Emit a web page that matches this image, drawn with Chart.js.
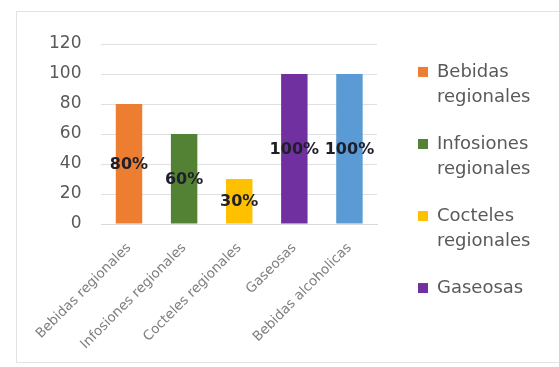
<!DOCTYPE html>
<html>
<head>
<meta charset="utf-8">
<script src="https://cdn.jsdelivr.net/npm/chart.js@4/dist/chart.umd.min.js"></script>
<style>
  html, body { margin: 0; padding: 0; background: #ffffff; }
  #wrap { position: relative; width: 559px; height: 367px; overflow: hidden; background: #fff; }
  #frame { position: absolute; left: 16px; top: 11px; width: 560px; height: 352px; border: 1px solid #e3e3e3; box-sizing: border-box; }
  #c { position: absolute; left: 0; top: 0; }
</style>
</head>
<body>
<div id="wrap">
  <div id="frame"></div>
  <canvas id="c" width="559" height="367"></canvas>
</div>
<script>
const categories = ["Bebidas regionales", "Infosiones regionales", "Cocteles regionales", "Gaseosas", "Bebidas alcoholicas"];
const values = [80, 60, 30, 100, 100];
const valueLabels = ["80%", "60%", "30%", "100%", "100%"];
const legendLines = [["Bebidas", "regionales"], ["Infosiones", "regionales"], ["Cocteles", "regionales"], ["Gaseosas"]];
const barColors = ["#ED7D31", "#548235", "#FFC000", "#7030A0", "#5B9BD5"];
const yTicks = [0, 20, 40, 60, 80, 100, 120];

const FONT = "'DejaVu Sans', sans-serif";
const LEGEND_W = 155;

// let the right-hand legend keep the width its two-line labels need
const LegendEl = Chart.registry.plugins.get('legend')._element;
const origFit = LegendEl.prototype.fit;
LegendEl.prototype.fit = function () {
  origFit.call(this);
  if (!this.isHorizontal()) { this.width = LEGEND_W; }
};

const centerLabels = {
  id: 'centerLabels',
  afterDatasetsDraw(chart) {
    const ctx = chart.ctx;
    const meta = chart.getDatasetMeta(0);
    ctx.save();
    ctx.font = "bold 16px " + FONT;
    ctx.fillStyle = "#1f1f2a";
    ctx.textAlign = "center";
    ctx.textBaseline = "middle";
    meta.data.forEach((bar, i) => {
      const y = (bar.y + bar.base) / 2;
      ctx.fillText(valueLabels[i], bar.x, y + 1);
    });
    ctx.restore();
  }
};

new Chart(document.getElementById('c'), {
  type: 'bar',
  data: {
    labels: categories,
    datasets: [{
      data: values,
      backgroundColor: barColors,
      borderWidth: 0,
      barPercentage: 0.48,
      categoryPercentage: 1.0
    }]
  },
  options: {
    responsive: false,
    animation: false,
    devicePixelRatio: 1,
    layout: { padding: { left: 29, top: 0, right: 8, bottom: 0 } },
    plugins: {
      tooltip: { enabled: false },
      legend: {
        position: 'right',
        align: 'center',
        labels: {
          font: { family: FONT, size: 18, lineHeight: 1.39 },
          color: "#595959",
          boxWidth: 10,
          boxHeight: 10,
          padding: 22,
          generateLabels() {
            return legendLines.map((t, i) => ({
              text: t,
              fillStyle: barColors[i],
              strokeStyle: barColors[i],
              lineWidth: 0,
              hidden: false,
              index: i,
              datasetIndex: 0,
              fontColor: "#595959"
            }));
          }
        }
      }
    },
    scales: {
      x: {
        grid: { display: false, drawTicks: false },
        border: { display: true, color: "#d9d9d9" },
        ticks: {
          color: "#7f7f7f",
          font: { family: FONT, size: 13.5 },
          minRotation: 45,
          maxRotation: 45,
          padding: 16
        },
        afterFit(s) { s.paddingLeft = 0; s.paddingRight = 0; s.height = 143; }
      },
      y: {
        min: 0,
        max: 120,
        afterBuildTicks(axis) { axis.ticks = yTicks.map(v => ({ value: v })); },
        grid: { color: "#e0e0e0", drawTicks: false },
        border: { display: false },
        ticks: {
          color: "#595959",
          font: { family: FONT, size: 17 },
          padding: 20
        }
      },
      gap: {
        type: 'linear',
        position: 'right',
        display: true,
        grid: { display: false, drawTicks: false },
        border: { display: false },
        ticks: { display: false },
        afterFit(s) { s.width = 19; }
      },
      gapTop: {
        type: 'linear',
        position: 'top',
        display: true,
        grid: { display: false, drawTicks: false },
        border: { display: false },
        ticks: { display: false },
        afterFit(s) { s.height = 44; }
      }
    }
  },
  plugins: [centerLabels]
});
</script>
</body>
</html>
